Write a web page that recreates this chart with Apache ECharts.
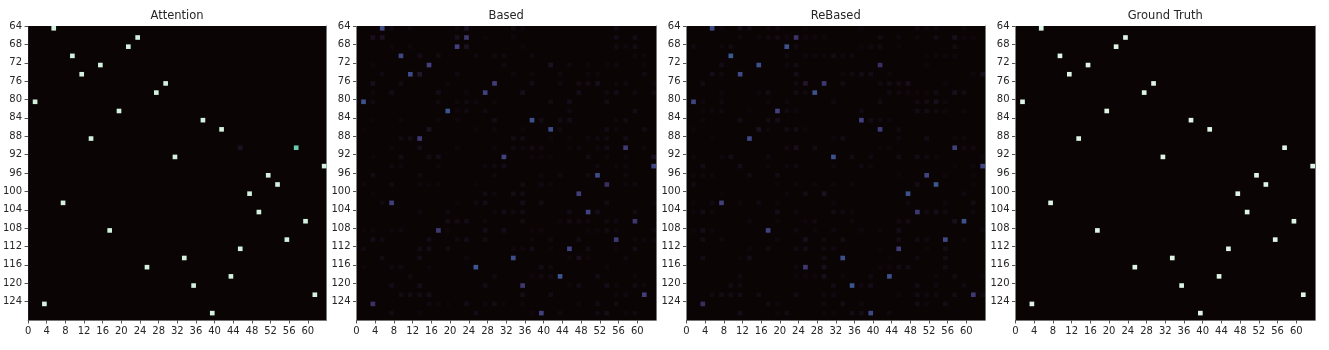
<!DOCTYPE html>
<html>
<head>
<meta charset="utf-8">
<title>Attention maps</title>
<script src="https://cdn.jsdelivr.net/npm/echarts@6/dist/echarts.min.js"></script>
<style>
html,body{margin:0;padding:0;background:#fff;}
#main{width:1329px;height:350px;}
</style>
</head>
<body>
<div id="main"></div>
<script>
var panelNames = ["Attention","Based","ReBased","Ground Truth"];
var xTicks = [0,4,8,12,16,20,24,28,32,36,40,44,48,52,56,60];
var yTicks = [64,68,72,76,80,84,88,92,96,100,104,108,112,116,120,124];

/* column of the bright cell on rows 64,66,...,126 */
var truthCols = [5,23,21,9,15,11,29,27,1,19,37,41,13,57,31,63,51,53,47,7,49,59,17,55,45,33,25,43,35,61,3,39];

/* row by row from y=64 in steps of 2, [column, strength in %] */
var attentionRows = [
[[5,98]],[[23,98]],[[21,98]],[[9,98]],[[15,98]],[[11,98]],[[29,98]],[[27,98]],
[[1,98]],[[19,98]],[[37,98]],[[41,98]],[[13,98]],[[57,80],[45,9]],[[31,98]],[[63,98]],
[[51,98]],[[53,98]],[[47,98]],[[7,98]],[[49,98]],[[59,98]],[[17,98]],[[55,98]],
[[45,98]],[[33,98]],[[25,98]],[[43,98]],[[35,98]],[[61,98]],[[3,98]],[[39,98]]
];
var basedRows = [
[[5,33],[7,4],[11,3],[21,3],[23,9],[33,5],[35,3],[55,5]],
[[23,26],[3,8],[5,9],[21,8],[27,2],[33,3],[55,6],[59,6]],
[[21,30],[7,3],[11,3],[23,9],[35,3],[55,5],[57,3],[59,6]],
[[9,32],[13,6],[17,5],[25,4],[29,4],[31,4],[37,4],[59,3],[61,3]],
[[15,30],[3,3],[31,4],[41,9],[45,4],[49,3],[53,3],[55,4],[61,3]],
[[11,34],[5,4],[13,11],[21,4],[33,3],[37,3],[43,4],[49,3],[51,3],[61,4]],
[[29,28],[3,8],[9,5],[19,3],[37,6],[43,4],[47,5],[49,5],[51,8],[55,3],[57,4],[63,3]],
[[27,30],[3,3],[7,6],[17,7],[23,3],[35,8],[47,7],[53,4],[55,6],[59,4],[63,4]],
[[1,36],[3,4],[17,4],[21,3],[23,4],[25,3],[29,3],[41,5],[45,7],[53,5]],
[[19,37],[21,3],[23,4],[27,4],[45,4],[59,6]],
[[37,36],[3,2],[9,3],[17,3],[21,3],[29,6],[39,5],[43,5],[45,6],[55,3],[57,5]],
[[41,34],[1,2],[15,9],[25,3],[29,3],[35,3],[43,4],[53,6],[55,3],[61,5]],
[[13,27],[9,4],[11,5],[33,5],[35,5],[41,3],[45,3],[49,3],[51,4],[53,4],[57,6]],
[[57,27],[7,3],[13,6],[21,3],[29,3],[33,4],[35,3],[37,5],[39,4],[45,3],[47,3],[51,3],[53,6],[61,3]],
[[31,31],[3,2],[9,5],[15,5],[17,7],[37,2],[39,2],[41,2],[49,5],[53,3],[57,3],[63,8]],
[[63,32],[7,4],[9,3],[17,3],[27,3],[29,4],[31,6],[51,4],[55,3],[57,3]],
[[51,34],[3,5],[13,4],[29,4],[39,3],[43,4],[49,4],[57,4]],
[[53,22],[1,3],[7,5],[13,3],[15,2],[17,3],[25,2],[35,5],[39,4],[41,3],[57,3],[59,4]],
[[47,29],[3,2],[27,5],[29,3],[33,6],[35,5]],
[[7,29],[5,4],[21,2],[25,4],[27,6],[35,7],[39,5],[53,5],[63,2]],
[[49,30],[13,3],[19,4],[29,3],[31,6],[33,4],[35,5],[45,6],[51,7],[59,5]],
[[59,26],[19,6],[21,5],[23,6],[27,3],[35,5],[43,3],[45,5],[47,4],[49,3],[53,4],[55,4]],
[[17,27],[1,2],[3,3],[7,3],[9,4],[19,2],[27,7],[31,7],[37,2],[39,3],[49,3],[51,3],[53,5],[55,3],[63,3]],
[[55,27],[3,7],[5,4],[15,6],[21,4],[23,6],[27,5],[37,3],[41,4],[47,5],[59,3],[61,3],[63,3]],
[[45,31],[1,4],[13,5],[15,6],[19,5],[33,3],[35,3],[37,6],[41,3],[49,5],[55,2],[59,6]],
[[33,35],[5,5],[13,6],[23,3],[45,3],[47,8],[49,3],[57,4]],
[[25,38],[1,2],[7,4],[9,4],[15,2],[39,6],[41,4],[53,3]],
[[43,38],[11,4],[29,4],[37,3],[39,4],[41,4],[51,6],[59,3]],
[[35,26],[7,6],[13,7],[27,6],[45,3],[47,6],[53,7],[55,3],[59,5],[61,3]],
[[61,29],[9,5],[11,5],[13,5],[15,7],[35,7],[41,6],[55,3],[57,4]],
[[3,24],[15,4],[17,3],[19,2],[23,6],[27,3],[29,6],[31,2],[35,3],[47,3],[51,5],[55,5]],
[[39,30],[7,5],[13,3],[25,6],[37,3],[43,4],[51,4],[53,7],[57,3],[59,4]]
];
var rebasedRows = [
[[5,32],[7,3],[11,6],[13,5],[17,3],[19,4],[25,2],[37,2],[49,4],[51,3],[53,3],[59,3]],
[[23,24],[11,3],[15,3],[17,4],[19,5],[21,3],[25,3],[27,3],[29,3],[41,5],[45,3],[49,3],[53,5],[57,8],[59,2],[61,2]],
[[21,36],[1,4],[7,3],[9,5],[23,4],[37,3],[39,4],[41,5],[45,2],[57,5]],
[[9,39],[21,4],[25,3],[27,3],[29,3],[31,6],[33,3],[35,4],[51,2],[53,3],[55,3],[57,3]],
[[15,36],[7,6],[21,3],[23,5],[41,22],[51,3]],
[[11,33],[5,7],[7,4],[23,7],[33,3],[35,4],[37,6],[39,6],[43,3],[61,3],[63,8]],
[[29,26],[3,5],[23,4],[25,11],[33,5],[41,4],[43,6],[45,5],[47,8],[55,3]],
[[27,36],[7,3],[15,3],[17,6],[23,5],[25,4],[43,4],[45,4],[47,3],[49,3],[51,3],[53,5],[57,8],[59,5]],
[[1,31],[3,3],[7,4],[17,3],[21,3],[31,4],[41,5],[49,4],[51,6],[53,8],[55,3]],
[[19,30],[3,3],[5,3],[7,4],[13,2],[21,4],[23,3],[37,4],[49,5],[51,6],[53,4],[55,3],[59,3]],
[[37,30],[3,3],[11,6],[17,5],[19,7],[39,5],[41,4],[43,2]],
[[41,28],[1,3],[15,9],[17,3],[21,5],[23,6],[25,3],[45,4]],
[[13,33],[5,2],[31,3],[33,6],[45,3],[51,6],[57,3],[59,3]],
[[57,29],[21,4],[23,8],[27,5],[41,2],[43,3],[59,4],[61,4]],
[[31,36],[1,3],[7,3],[9,6],[17,4],[35,5],[39,4],[45,5],[49,6],[51,4],[53,3],[63,3]],
[[63,32],[3,6],[11,7],[17,3],[21,3],[23,4],[31,3],[37,4],[39,3],[57,2],[61,3]],
[[51,31],[1,3],[3,3],[5,3],[13,5],[19,6],[45,2],[55,3],[61,2]],
[[53,38],[1,5],[19,2],[23,3],[27,3],[31,3],[35,3],[49,6],[61,2]],
[[47,36],[7,2],[21,3],[25,6],[29,9],[59,4]],
[[7,29],[1,2],[5,4],[11,3],[15,4],[19,3],[31,3],[47,3],[55,3],[61,5]],
[[49,26],[1,2],[3,6],[5,3],[19,7],[23,3],[31,5],[33,4],[35,3],[51,4],[53,7],[55,4],[61,3]],
[[59,36],[13,4],[19,3],[25,2],[27,4],[35,3],[45,4],[47,5],[57,8]],
[[17,31],[1,3],[3,7],[5,3],[23,4],[27,3],[31,4],[37,3],[41,3],[45,7],[63,3]],
[[55,33],[3,6],[7,4],[19,3],[25,8],[29,4],[33,6],[45,6],[49,5],[51,4],[59,3]],
[[45,28],[13,3],[17,5],[23,4],[25,6],[29,4],[31,4],[41,2],[51,3],[55,5]],
[[33,35],[3,6],[11,2],[13,7],[29,5],[43,2],[49,4],[55,5]],
[[25,26],[23,3],[29,8],[41,3],[43,3],[45,5],[47,5],[55,5]],
[[43,36],[11,4],[23,3],[25,3],[27,3],[29,8],[33,3],[39,4],[53,3],[57,5],[63,2]],
[[35,37],[9,5],[11,4],[31,6],[37,4],[39,7],[49,6],[53,4],[59,4]],
[[61,26],[5,4],[7,6],[9,5],[11,6],[15,5],[23,5],[29,4],[31,4],[45,3],[49,5],[51,4],[53,4],[57,6],[63,4]],
[[3,22],[17,5],[19,3],[29,4],[33,6],[37,3],[49,6],[51,3],[55,6]],
[[39,33],[11,7],[19,3],[21,5],[29,3],[31,3],[35,6],[37,6],[43,4]]
];
var truthRows = [];
for(var t = 0; t < truthCols.length; t++){
    truthRows.push([[truthCols[t],100]]);
}
var panelRows = [attentionRows,basedRows,rebasedRows,truthRows];

/* mako, with the second stop pulled darker so the faint cells stay subtle */
var makoStops = ["#0b0405","#160c18","#2e1e3c","#382e5c","#413d7b","#3c518c","#37659e","#367aa2",
                 "#348fa7","#3aa3aa","#40b7ad","#66c9b0","#8bdab2","#b5e8cc","#def5e5"];
var gridLeft = [27.5,356.5,686.5,1015.5];
var gridWidth = [299,299.5,298.5,299.5];
var fontName = "DejaVu Sans";
var textColor = "#262626";

/* [col, y, strength] for the custom series */
function rowsToCells(rows){
    var cells = [];
    for(var i = 0; i < rows.length; i++){
        for(var j = 0; j < rows[i].length; j++){
            cells.push([rows[i][j][0],64 + i * 2,rows[i][j][1]]);
        }
    }
    return cells;
}
function renderCell(params, api){
    var corner = api.coord([api.value(0),api.value(1)]);
    var size = api.size([1,1]);
    return {
        type: "rect",
        shape: {x: corner[0],y: corner[1],width: size[0],height: size[1]},
        style: {fill: api.visual("color")}
    };
}

var titles = [], grids = [], xAxes = [], yAxes = [], series = [];
for(var p = 0; p < 4; p++){
    titles.push({
        text: panelNames[p],
        /* title has 5px padding of its own */
        left: gridLeft[p] + gridWidth[p] / 2 - 5,
        top: 5,
        textAlign: "center",
        textStyle: {fontFamily: fontName,fontSize: 11.5,fontWeight: "normal",color: textColor}
    });
    grids.push({
        left: gridLeft[p],
        top: 26,
        width: gridWidth[p],
        height: 294,
        show: true,
        borderWidth: 0,
        backgroundColor: makoStops[0]
    });
    xAxes.push({
        type: "value",
        gridIndex: p,
        min: 0,
        max: 64,
        interval: 4,
        axisLine: {show: true,lineStyle: {color: "#777",width: 1}},
        axisTick: {show: true,length: 3.5,customValues: xTicks,lineStyle: {color: "#555",width: 1}},
        axisLabel: {show: true,margin: 6,customValues: xTicks,fontFamily: fontName,fontSize: 10,color: textColor},
        splitLine: {show: false}
    });
    yAxes.push({
        type: "value",
        gridIndex: p,
        inverse: true,
        min: 64,
        max: 128,
        interval: 4,
        axisLine: {show: false},
        axisTick: {show: true,length: 3.5,customValues: yTicks,lineStyle: {color: "#555",width: 1}},
        axisLabel: {show: true,margin: 6,customValues: yTicks,fontFamily: fontName,fontSize: 10,color: textColor},
        splitLine: {show: false}
    });
    /* only there for the gray line on the right edge */
    yAxes.push({
        type: "value",
        gridIndex: p,
        position: "right",
        inverse: true,
        min: 64,
        max: 128,
        interval: 4,
        axisLine: {show: true,onZero: false,lineStyle: {color: "#777",width: 1}},
        axisTick: {show: false},
        axisLabel: {show: false},
        splitLine: {show: false}
    });
    series.push({
        name: panelNames[p],
        type: "custom",
        coordinateSystem: "cartesian2d",
        xAxisIndex: p,
        yAxisIndex: p * 2,
        renderItem: renderCell,
        encode: {x: 0,y: 1},
        data: rowsToCells(panelRows[p]),
        silent: true,
        animation: false
    });
}

var chart = echarts.init(document.getElementById("main"),null,{renderer: "canvas"});
chart.setOption({
    backgroundColor: "#ffffff",
    animation: false,
    title: titles,
    grid: grids,
    xAxis: xAxes,
    yAxis: yAxes,
    visualMap: {
        show: false,
        min: 0,
        max: 100,
        dimension: 2,
        seriesIndex: [0,1,2,3],
        inRange: {color: makoStops}
    },
    series: series
});
</script>
</body>
</html>
